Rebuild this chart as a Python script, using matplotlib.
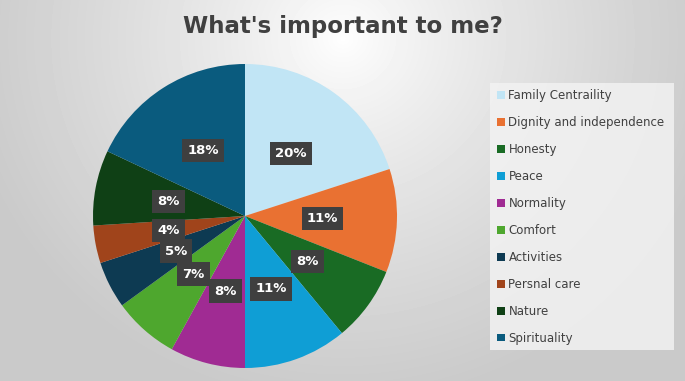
import numpy as np
import matplotlib
matplotlib.use("Agg")
import matplotlib.pyplot as plt
from matplotlib.patches import Rectangle

# data
labels = ["Family Centraility", "Dignity and independence", "Honesty", "Peace",
          "Normality", "Comfort", "Activities", "Persnal care", "Nature", "Spirituality"]
values = [20, 11, 8, 11, 8, 7, 5, 4, 8, 18]
colors = ["#C1E5F5", "#E97132", "#196B24", "#0F9ED5", "#A02B93",
          "#4EA72E", "#0D3A52", "#A0441B", "#0F4015", "#0A5B7E"]

W, H = 685, 381
fig = plt.figure(figsize=(W / 100, H / 100), dpi=100)

# radial grey gradient background
bg = fig.add_axes([0, 0, 1, 1])
yy, xx = np.mgrid[0:H, 0:W]
d = np.sqrt(((xx - W * 0.5) / (W * 0.7)) ** 2 + ((yy - H * 0.1) / (H * 1.2)) ** 2)
shade = np.clip(1.0 - 0.25 * d ** 0.8, 0.79, 1.0)
bg.imshow(shade, cmap="gray", vmin=0, vmax=1, aspect="auto", extent=(0, W, H, 0))
bg.set_xlim(0, W); bg.set_ylim(H, 0)
bg.axis("off")

# title
fig.text(0.5, 1 - 27 / H, "What's important to me?", ha="center", va="center",
         fontsize=16.5, fontweight="bold", color="#404040")

# pie: centre (245,216) px, radius 152 px
cx, cy, r = 245, 216, 152
ax = fig.add_axes([(cx - r) / W, (H - cy - r) / H, 2 * r / W, 2 * r / H])
wedges, _, autotexts = ax.pie(values, colors=colors, startangle=90, counterclock=False,
                              autopct="%.0f%%", pctdistance=0.51,
                              wedgeprops=dict(linewidth=0))
for t in autotexts:
    t.set_color("white"); t.set_fontweight("bold"); t.set_fontsize(9.5)
    t.set_bbox(dict(boxstyle="square,pad=0.4", facecolor="#3F3F3F", edgecolor="none"))
ax.set_xlim(-1, 1); ax.set_ylim(-1, 1)
ax.axis("off")

# legend box
bg.add_patch(Rectangle((490, 83), 184, 267, facecolor="#F2F2F2", edgecolor="none", alpha=0.85))
leg = fig.legend(wedges, labels, loc="upper left", bbox_to_anchor=(489 / W, 1 - 81 / H),
                 frameon=False, fontsize=8.5, labelcolor="#404040", handlelength=0.65,
                 handleheight=0.65, handletextpad=0.3, labelspacing=1.18, borderpad=0.2)

fig.savefig("out.png", dpi=100)
